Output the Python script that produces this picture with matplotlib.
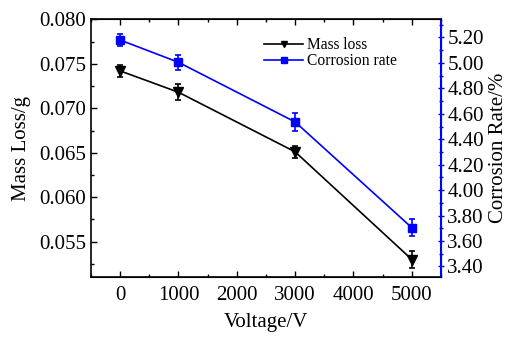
import numpy as np
import matplotlib
matplotlib.use("Agg")
import matplotlib.pyplot as plt
from matplotlib.lines import Line2D
from matplotlib.ticker import MultipleLocator, FormatStrFormatter

plt.rcParams['font.family'] = ['Liberation Serif', 'DejaVu Serif']
plt.rcParams['mathtext.fontset'] = 'stix'

# data
voltage = [0, 1000, 3000, 5000]
mass_loss = [0.0742, 0.0718, 0.0651, 0.0530]
mass_err = [0.0007, 0.0009, 0.0007, 0.0009]
corr_rate = [5.18, 5.005, 4.536, 3.705]
corr_err = [0.05, 0.06, 0.07, 0.065]

fig = plt.figure(figsize=(5.10, 3.38), dpi=100)
ax = fig.add_axes([0.1784, 0.1796, 0.6863, 0.7633])
ax2 = ax.twinx()

ax.errorbar(voltage, mass_loss, yerr=mass_err, color='black', marker='v',
            markersize=7, lw=1.2, elinewidth=1.2, capsize=2.5, capthick=1.2)
ax2.errorbar(voltage, corr_rate, yerr=corr_err, color='#0000ff', marker='s',
             markersize=5.5, lw=1.2, elinewidth=1.2, capsize=2.5, capthick=1.2)

ax.set_xlim(-500, 5500)
ax.set_ylim(0.051, 0.080)
ax2.set_ylim(3.315, 5.343)

ax.xaxis.set_major_locator(MultipleLocator(1000))
ax.xaxis.set_minor_locator(MultipleLocator(500))
ax.yaxis.set_major_locator(MultipleLocator(0.005))
ax.yaxis.set_minor_locator(MultipleLocator(0.0025))
ax.yaxis.set_major_formatter(FormatStrFormatter('%.3f'))
ax2.yaxis.set_major_locator(MultipleLocator(0.2))
ax2.yaxis.set_minor_locator(MultipleLocator(0.1))
ax2.yaxis.set_major_formatter(FormatStrFormatter('%.2f'))

fs = 15
ax.tick_params(axis='both', which='both', direction='in', top=True, right=False,
               labelsize=fs, width=1.0)
ax.tick_params(which='major', length=4.5)
ax.tick_params(which='minor', length=2.5)
ax.tick_params(axis='x', pad=6)
ax2.tick_params(axis='y', which='both', direction='inout', colors='#0000ff',
                labelcolor='black', labelsize=fs, width=1.0)
ax2.tick_params(which='major', length=5)
ax2.tick_params(which='minor', length=3)
ax2.tick_params(axis='y', pad=2)

for s in ['left', 'bottom', 'top']:
    ax.spines[s].set_linewidth(1.2)
ax2.spines['right'].set_color('#0000ff')
ax2.spines['right'].set_linewidth(1.5)
ax2.spines['left'].set_visible(False)

ax.set_xlabel('Voltage/V', fontsize=fs, labelpad=6)
ax.set_ylabel('Mass Loss/g', fontsize=fs, labelpad=6)
ax2.set_ylabel('Corrosion Rate/%', fontsize=fs, labelpad=4)

h1 = Line2D([], [], color='black', marker='v', markersize=5, lw=1.2)
h2 = Line2D([], [], color='#0000ff', marker='s', markersize=4, lw=1.2)
ax2.legend([h1, h2], ['Mass loss', 'Corrosion rate'], loc='upper left',
           bbox_to_anchor=(0.455, 0.985), frameon=False, fontsize=11.2,
           handlelength=2.5, handletextpad=0.25, labelspacing=0.0)

fig.savefig('out.png', dpi=100)
